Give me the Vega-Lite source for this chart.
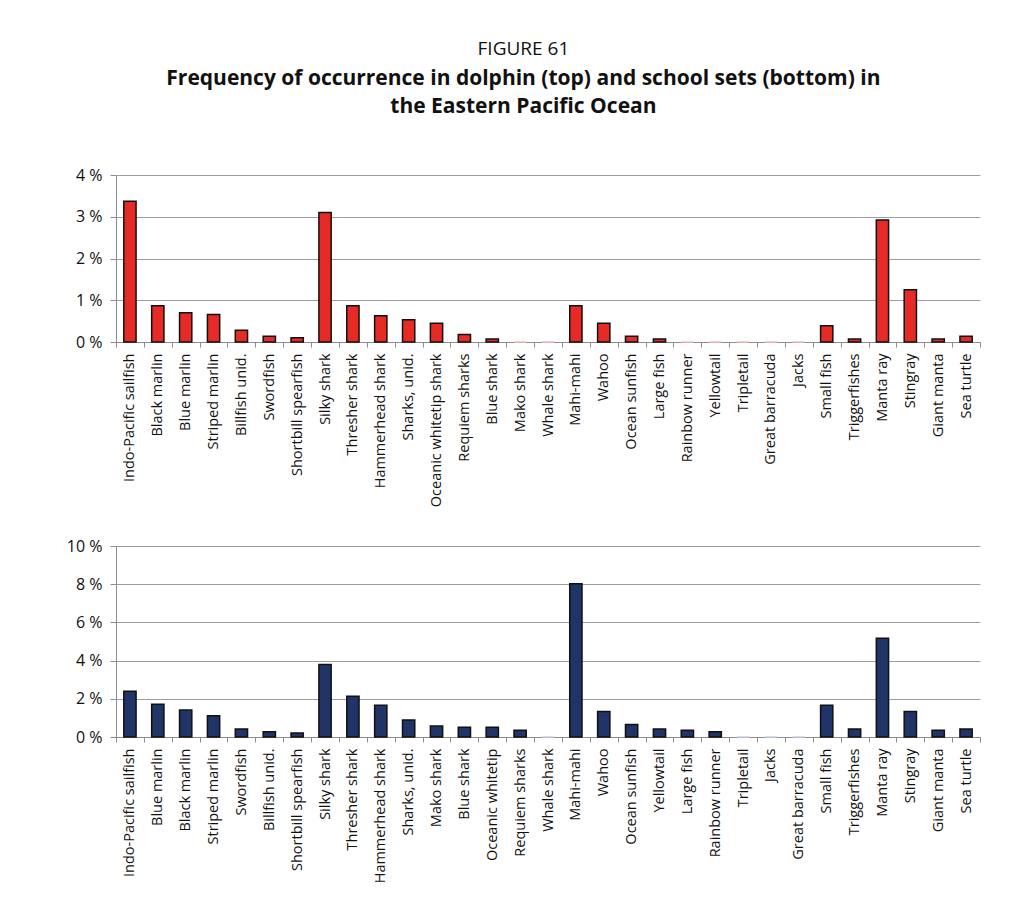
{
  "$schema": "https://vega.github.io/schema/vega-lite/v6.json",
  "padding": {"left": 66, "top": 40, "right": 20, "bottom": 10},
  "background": "white",
  "title": {
    "text": "FIGURE 61",
    "subtitle": ["Frequency of occurrence in dolphin (top) and school sets (bottom) in", "the Eastern Pacific Ocean"],
    "anchor": "middle",
    "font": "Open Sans",
    "fontSize": 19,
    "fontWeight": "normal",
    "color": "#111111",
    "subtitleFont": "Open Sans",
    "subtitleFontSize": 21,
    "subtitleFontWeight": "bold",
    "subtitleColor": "#111111",
    "subtitlePadding": 9,
    "subtitleLineHeight": 28,
    "offset": 50
  },
  "datasets": {
    "dolphin": [
      {"species": "Indo-Pacific sailfish", "pct": 3.37},
      {"species": "Black marlin", "pct": 0.87},
      {"species": "Blue marlin", "pct": 0.7},
      {"species": "Striped marlin", "pct": 0.66},
      {"species": "Billfish unid.", "pct": 0.28},
      {"species": "Swordfish", "pct": 0.14},
      {"species": "Shortbill spearfish", "pct": 0.1},
      {"species": "Silky shark", "pct": 3.1},
      {"species": "Thresher shark", "pct": 0.87},
      {"species": "Hammerhead shark", "pct": 0.63},
      {"species": "Sharks, unid.", "pct": 0.53},
      {"species": "Oceanic whitetip shark", "pct": 0.45},
      {"species": "Requiem sharks", "pct": 0.18},
      {"species": "Blue shark", "pct": 0.07},
      {"species": "Mako shark", "pct": 0},
      {"species": "Whale shark", "pct": 0},
      {"species": "Mahi-mahi", "pct": 0.87},
      {"species": "Wahoo", "pct": 0.45},
      {"species": "Ocean sunfish", "pct": 0.14},
      {"species": "Large fish", "pct": 0.07},
      {"species": "Rainbow runner", "pct": 0},
      {"species": "Yellowtail", "pct": 0},
      {"species": "Tripletail", "pct": 0},
      {"species": "Great barracuda", "pct": 0},
      {"species": "Jacks", "pct": 0},
      {"species": "Small fish", "pct": 0.39},
      {"species": "Triggerfishes", "pct": 0.07},
      {"species": "Manta ray", "pct": 2.92},
      {"species": "Stingray", "pct": 1.25},
      {"species": "Giant manta", "pct": 0.07},
      {"species": "Sea turtle", "pct": 0.14}
    ],
    "school": [
      {"species": "Indo-Pacific sailfish", "pct": 2.4},
      {"species": "Blue marlin", "pct": 1.72},
      {"species": "Black marlin", "pct": 1.41},
      {"species": "Striped marlin", "pct": 1.11},
      {"species": "Swordfish", "pct": 0.42},
      {"species": "Billfish unid.", "pct": 0.28},
      {"species": "Shortbill spearfish", "pct": 0.21},
      {"species": "Silky shark", "pct": 3.8},
      {"species": "Thresher shark", "pct": 2.13},
      {"species": "Hammerhead shark", "pct": 1.66},
      {"species": "Sharks, unid.", "pct": 0.89},
      {"species": "Mako shark", "pct": 0.57},
      {"species": "Blue shark", "pct": 0.51},
      {"species": "Oceanic whitetip shark", "pct": 0.51},
      {"species": "Requiem sharks", "pct": 0.35},
      {"species": "Whale shark", "pct": 0},
      {"species": "Mahi-mahi", "pct": 8.03},
      {"species": "Wahoo", "pct": 1.34},
      {"species": "Ocean sunfish", "pct": 0.66},
      {"species": "Yellowtail", "pct": 0.42},
      {"species": "Large fish", "pct": 0.35},
      {"species": "Rainbow runner", "pct": 0.28},
      {"species": "Tripletail", "pct": 0},
      {"species": "Jacks", "pct": 0},
      {"species": "Great barracuda", "pct": 0},
      {"species": "Small fish", "pct": 1.66},
      {"species": "Triggerfishes", "pct": 0.42},
      {"species": "Manta ray", "pct": 5.17},
      {"species": "Stingray", "pct": 1.34},
      {"species": "Giant manta", "pct": 0.35},
      {"species": "Sea turtle", "pct": 0.42}
    ]
  },
  "config": {
    "font": "Open Sans",
    "view": {"stroke": null},
    "axis": {
      "labelFont": "Open Sans",
      "labelColor": "#111111",
      "domainColor": "#8c8c8c",
      "tickColor": "#8c8c8c",
      "gridColor": "#9e9e9e",
      "gridWidth": 1,
      "tickSize": 5,
      "title": null
    },
    "axisX": {
      "labelAngle": -90,
      "labelAlign": "right",
      "labelBaseline": "middle",
      "labelFontSize": 14.5,
      "labelPadding": 6,
      "labelLimit": 220,
      "tickBand": "extent",
      "grid": false
    },
    "axisY": {
      "labelFontSize": 16,
      "labelPadding": 8,
      "tickSize": 6,
      "labelExpr": "datum.value + ' %'"
    },
    "concat": {"spacing": 31}
  },
  "vconcat": [
    {
      "width": 864,
      "height": 167,
      "data": {"name": "dolphin"},
      "mark": {"type": "bar", "strokeWidth": 1.5, "width": {"band": 0.44}},
      "encoding": {
        "x": {"field": "species", "type": "nominal", "sort": null, "scale": {"paddingInner": 0, "paddingOuter": 0}},
        "y": {"field": "pct", "type": "quantitative", "scale": {"domain": [0, 4]}, "axis": {"values": [0, 1, 2, 3, 4]}},
        "fill": {"value": "#e62b26"},
        "stroke": {"condition": {"test": "datum.pct == 0", "value": "#f4c0c0"}, "value": "#111111"}
      }
    },
    {
      "width": 864,
      "height": 191,
      "data": {"name": "school"},
      "mark": {"type": "bar", "strokeWidth": 1.5, "width": {"band": 0.44}},
      "encoding": {
        "x": {
          "field": "species", "type": "nominal", "sort": null,
          "scale": {"paddingInner": 0, "paddingOuter": 0},
          "axis": {"labelExpr": "datum.value == 'Oceanic whitetip shark' ? 'Oceanic whitetip' : datum.value"}
        },
        "y": {"field": "pct", "type": "quantitative", "scale": {"domain": [0, 10]}, "axis": {"values": [0, 2, 4, 6, 8, 10]}},
        "fill": {"value": "#203468"},
        "stroke": {"condition": {"test": "datum.pct == 0", "value": "#c9d0e2"}, "value": "#111111"}
      }
    }
  ]
}
